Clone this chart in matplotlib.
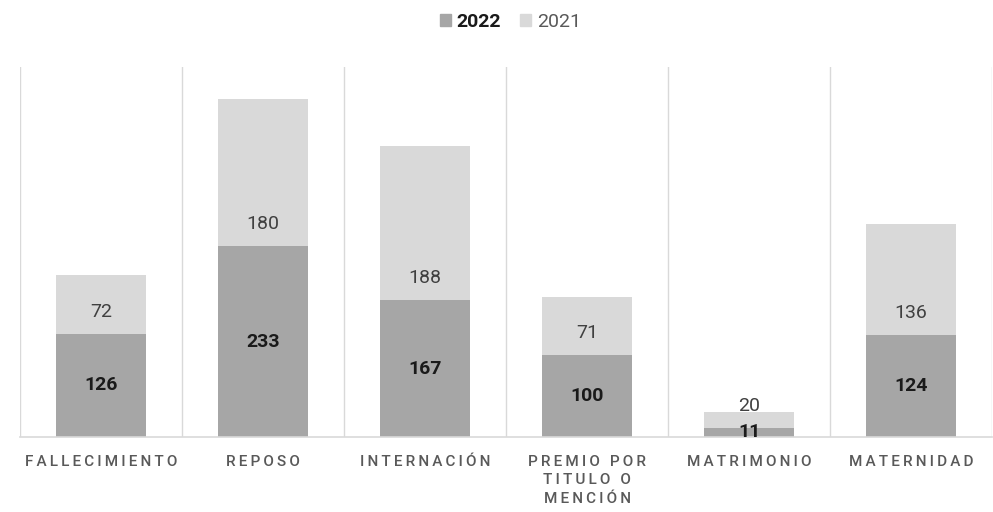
'''
Stacked bar chart: licencias por tipo, 2022 vs 2021.
'''

import matplotlib
matplotlib.use('Agg')
import matplotlib.pyplot as plt
from matplotlib.patches import Patch

# Data ####################################
categories = ['FALLECIMIENTO', 'REPOSO', 'INTERNACIÓN', 'PREMIO POR\nTITULO O\nMENCIÓN',
              'MATRIMONIO', 'MATERNIDAD']
values_2022 = [126, 233, 167, 100, 11, 124]
values_2021 = [72, 180, 188, 71, 20, 136]

color_2022 = '#a6a6a6'
color_2021 = '#d9d9d9'
grid_color = '#d9d9d9'

plt.rcParams['font.family'] = ['Roboto', 'DejaVu Sans']

def spaced(label):
    """Add letter spacing with thin spaces, line by line."""
    return '\n'.join('\u2009'.join(line) for line in label.split('\n'))

# Figure ####################################
fig = plt.figure(figsize=(9.93, 5.12), dpi=100)
ax = fig.add_axes([20 / 993, 75 / 512, 972 / 993, 370 / 512])

x = list(range(len(categories)))
bars_2022 = ax.bar(x, values_2022, width=0.56, color=color_2022, zorder=2)
bars_2021 = ax.bar(x, values_2021, width=0.56, bottom=values_2022, color=color_2021, zorder=2)

# value labels
for xi, v22, v21 in zip(x, values_2022, values_2021):
    ax.text(xi, v22 / 2, str(v22), ha='center', va='center', fontsize=14,
            fontweight='bold', color='#1a1a1a', zorder=3)
    ax.annotate(str(v21), xy=(xi, v22), xytext=(0, 16), textcoords='offset points',
                ha='center', va='center', fontsize=14, color='#404040', zorder=3)

# category separators
for b in [i - 0.5 for i in range(len(categories) + 1)]:
    ax.axvline(b, color=grid_color, lw=1, zorder=1)

ax.set_xlim(-0.5, len(categories) - 0.5)
ax.set_ylim(0, 452)
ax.set_yticks([])
ax.set_xticks(x)
ax.set_xticklabels([spaced(c) for c in categories], fontsize=11, color='#595959',
                   fontweight='medium', linespacing=1.4)
ax.tick_params(axis='x', length=0, pad=13)
for side in ['top', 'left', 'right']:
    ax.spines[side].set_visible(False)
ax.spines['bottom'].set_color(grid_color)
ax.spines['bottom'].set_linewidth(1.2)

# legend
handles = [Patch(color=color_2022, label='2022'), Patch(color=color_2021, label='2021')]
leg = fig.legend(handles=handles, loc='center', bbox_to_anchor=(0.514, 1 - 22 / 512), ncol=2,
                 frameon=False, fontsize=14, handlelength=0.55, handleheight=0.55,
                 handletextpad=0.3, columnspacing=1.0)
leg.get_texts()[0].set_fontweight('bold')
leg.get_texts()[0].set_color('#1a1a1a')
leg.get_texts()[1].set_color('#595959')

fig.savefig('out.png', dpi=100)
